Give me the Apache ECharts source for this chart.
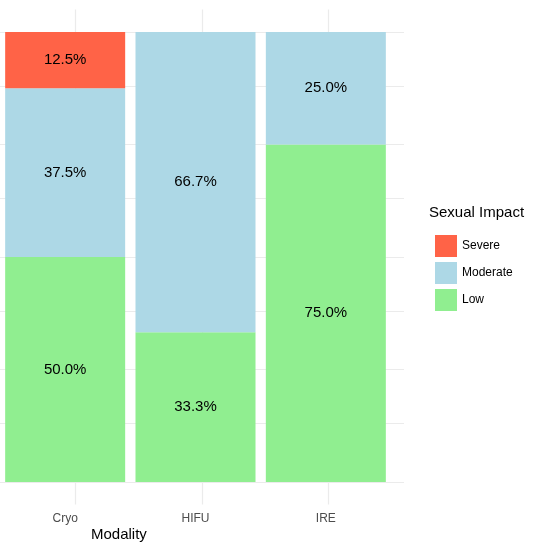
<!DOCTYPE html>
<html>
<head>
<meta charset="utf-8">
<script src="https://cdn.jsdelivr.net/npm/echarts@6/dist/echarts.min.js"></script>
<style>
  html, body { margin: 0; padding: 0; background: #fff; }
  #chart { width: 554px; height: 554px; }
</style>
</head>
<body>
<div id="chart"></div>
<script>
// data
var categories = ['Cryo', 'HIFU', 'IRE']
var low = [0.5, 0.333, 0.75]
var moderate = [0.375, 0.667, 0.25]
var severe = [0.125, 0, 0]
var yGridValues = [0, 0.125, 0.25, 0.375, 0.5, 0.625, 0.75, 0.875, 1]

var gridColor = '#ebebeb'
var font = 'Liberation Sans, Arial, sans-serif'

function barSeries(name, vals, color) {
  return {
    name: name,
    type: 'bar',
    stack: 'all',
    barWidth: 120,
    z: 5,
    data: vals,
    itemStyle: { color: color },
    label: {
      show: true,
      position: 'inside',
      color: '#000',
      fontSize: 15,
      fontFamily: font,
      formatter: function (p) {
        return p.value > 0 ? (p.value * 100).toFixed(1) + '%' : ''
      }
    },
    emphasis: { disabled: true }
  }
}

var chart = echarts.init(document.getElementById('chart'), null, { renderer: 'canvas' })

// panel gridlines live on a second, slightly wider grid (ggplot expansion)
var gridSeries = {
  type: 'line',
  xAxisIndex: 1,
  yAxisIndex: 1,
  data: [],
  silent: true,
  z: 0,
  markLine: {
    silent: true,
    symbol: 'none',
    z: 0,
    label: { show: false },
    lineStyle: { color: gridColor, width: 1.2, type: 'solid' },
    data: yGridValues.map(function (v) { return { yAxis: v } })
      .concat(categories.map(function (c, i) { return { xAxis: i } }))
  }
}

var hiddenY = {
  type: 'value',
  min: -0.05,
  max: 1.05,
  splitLine: { show: false },
  axisLine: { show: false },
  axisTick: { show: false },
  axisLabel: { show: false }
}

chart.setOption({
  animation: false,
  grid: [
    { left: -11, right: 163, top: 9.5, bottom: 49.5 },
    { left: -24, right: 150, top: 9.5, bottom: 49.5 }
  ],
  xAxis: [{
    type: 'category',
    gridIndex: 0,
    data: categories,
    splitLine: { show: false },
    axisLine: { show: false },
    axisTick: { show: false },
    axisLabel: { color: '#4d4d4d', fontSize: 12, fontFamily: font, margin: 8 }
  }, {
    type: 'value',
    gridIndex: 1,
    min: -0.6,
    max: 2.6,
    show: false
  }],
  yAxis: [
    Object.assign({ gridIndex: 0 }, hiddenY),
    Object.assign({ gridIndex: 1 }, hiddenY)
  ],
  legend: {
    orient: 'vertical',
    left: 430,
    top: 230,
    itemWidth: 22,
    itemHeight: 22,
    itemGap: 5,
    icon: 'rect',
    data: ['Severe', 'Moderate', 'Low'],
    textStyle: { color: '#000', fontSize: 12, fontFamily: font }
  },
  graphic: [
    { type: 'text', left: 429, top: 205, style: { text: 'Sexual Impact', fontSize: 15, fontFamily: font, fill: '#000' } },
    { type: 'text', left: 91, top: 527, style: { text: 'Modality', fontSize: 15, fontFamily: font, fill: '#000' } }
  ],
  series: [
    gridSeries,
    barSeries('Low', low, '#90EE90'),
    barSeries('Moderate', moderate, '#ADD8E6'),
    barSeries('Severe', severe, '#FF6347')
  ]
})
</script>
</body>
</html>
